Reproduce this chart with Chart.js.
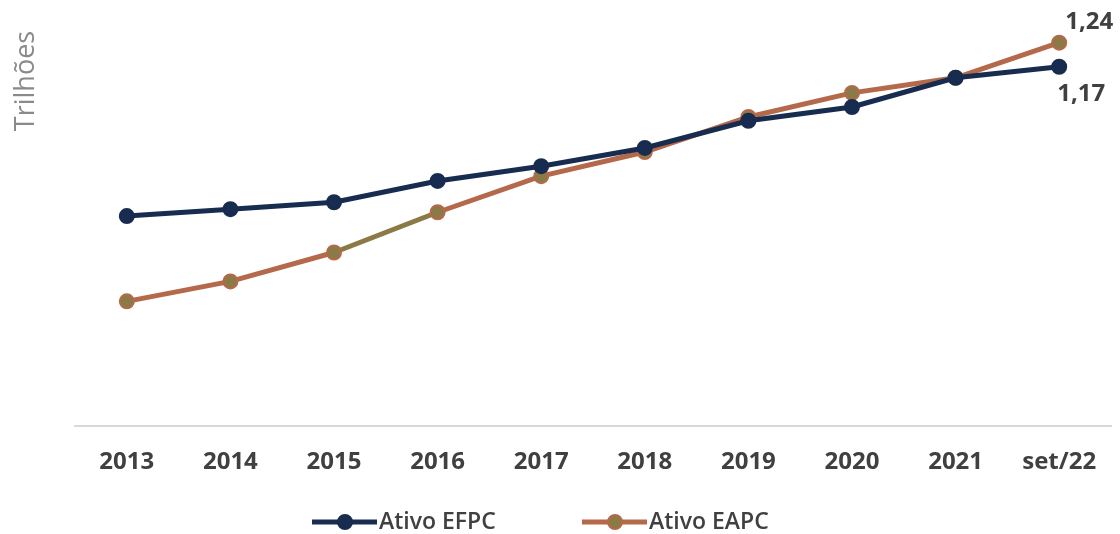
<!DOCTYPE html>
<html>
<head>
<meta charset="utf-8">
<script src="https://cdn.jsdelivr.net/npm/chart.js@4"></script>
<style>
html,body{margin:0;padding:0;background:#fff;}
canvas{display:block;}
</style>
</head>
<body>
<canvas id="c" width="1120" height="534"></canvas>
<script>
const categories = ["2013","2014","2015","2016","2017","2018","2019","2020","2021","set/22"];
const efpcValues = [0.736, 0.756, 0.776, 0.838, 0.881, 0.934, 1.013, 1.053, 1.138, 1.17];
const eapcValues = [0.488, 0.546, 0.630, 0.747, 0.852, 0.922, 1.024, 1.094, 1.138, 1.24];
const seriesNames = ["Ativo EFPC", "Ativo EAPC"];
const endLabels = ["1,17", "1,24"];
const axisTitle = "Trilhões";

const NAVY = "#172C4E";
const BROWN = "#B5694B";
const OLIVE = "#8C7A46";
const TEXT = "#404040";
const FONT = "'Open Sans', sans-serif";

const extras = {
  id: "extras",
  afterDraw(chart) {
    const ctx = chart.ctx;
    ctx.save();
    // y axis title
    ctx.fillStyle = "#8a8a8a";
    ctx.font = "27px " + FONT;
    ctx.textAlign = "center";
    ctx.textBaseline = "middle";
    ctx.translate(26, 81);
    ctx.rotate(-Math.PI / 2);
    ctx.fillText(axisTitle, 0, 0);
    ctx.restore();

    // end data labels
    ctx.save();
    ctx.fillStyle = TEXT;
    ctx.font = "bold 24px " + FONT;
    ctx.textAlign = "center";
    ctx.textBaseline = "middle";
    const m0 = chart.getDatasetMeta(0).data;
    const m1 = chart.getDatasetMeta(1).data;
    const p0 = m0[m0.length - 1], p1 = m1[m1.length - 1];
    ctx.fillText(endLabels[0], p0.x + 22, p0.y + 27);
    ctx.fillText(endLabels[1], p1.x + 30, p1.y - 21);
    ctx.restore();

    // legend
    ctx.save();
    const items = [
      {x: 312, color: NAVY, fill: NAVY, name: seriesNames[0]},
      {x: 582, color: BROWN, fill: OLIVE, name: seriesNames[1]}
    ];
    const ly = 522;
    items.forEach(it => {
      ctx.strokeStyle = it.color;
      ctx.lineWidth = 5;
      ctx.beginPath();
      ctx.moveTo(it.x, ly);
      ctx.lineTo(it.x + 65, ly);
      ctx.stroke();
      ctx.beginPath();
      ctx.arc(it.x + 33, ly, 7, 0, Math.PI * 2);
      ctx.fillStyle = it.fill;
      ctx.fill();
      ctx.lineWidth = 2;
      ctx.strokeStyle = it.color;
      ctx.stroke();
      ctx.fillStyle = TEXT;
      ctx.font = "600 23px " + FONT;
      ctx.textAlign = "left";
      ctx.textBaseline = "middle";
      ctx.fillText(it.name, it.x + 67, ly);
    });
    ctx.restore();
  }
};

new Chart(document.getElementById("c"), {
  type: "line",
  data: {
    labels: categories,
    datasets: [
      {
        label: seriesNames[0],
        data: efpcValues,
        borderColor: NAVY,
        backgroundColor: NAVY,
        borderWidth: 5,
        pointRadius: 7,
        pointBackgroundColor: NAVY,
        pointBorderColor: NAVY,
        pointBorderWidth: 2,
        tension: 0
      },
      {
        label: seriesNames[1],
        data: eapcValues,
        borderColor: BROWN,
        backgroundColor: BROWN,
        borderWidth: 5,
        pointRadius: 7,
        pointBackgroundColor: OLIVE,
        pointBorderColor: BROWN,
        pointBorderWidth: 2,
        tension: 0,
        segment: {
          borderColor: c => c.p0DataIndex === 2 ? OLIVE : undefined
        }
      }
    ]
  },
  options: {
    responsive: false,
    animation: false,
    layout: { padding: { left: 75, right: 1, top: 10, bottom: 35 } },
    plugins: { legend: { display: false }, tooltip: { enabled: false } },
    scales: {
      x: {
        offset: true,
        grid: { display: true, drawOnChartArea: false, drawTicks: false, offset: true },
        border: { display: true, color: "#d9d9d9", width: 2 },
        ticks: { color: TEXT, font: { family: FONT, size: 24, weight: "bold" }, padding: 22, maxRotation: 0, autoSkip: false }
      },
      y: {
        display: false,
        min: 0.125,
        max: 1.335
      }
    }
  },
  plugins: [extras]
});
</script>
</body>
</html>
